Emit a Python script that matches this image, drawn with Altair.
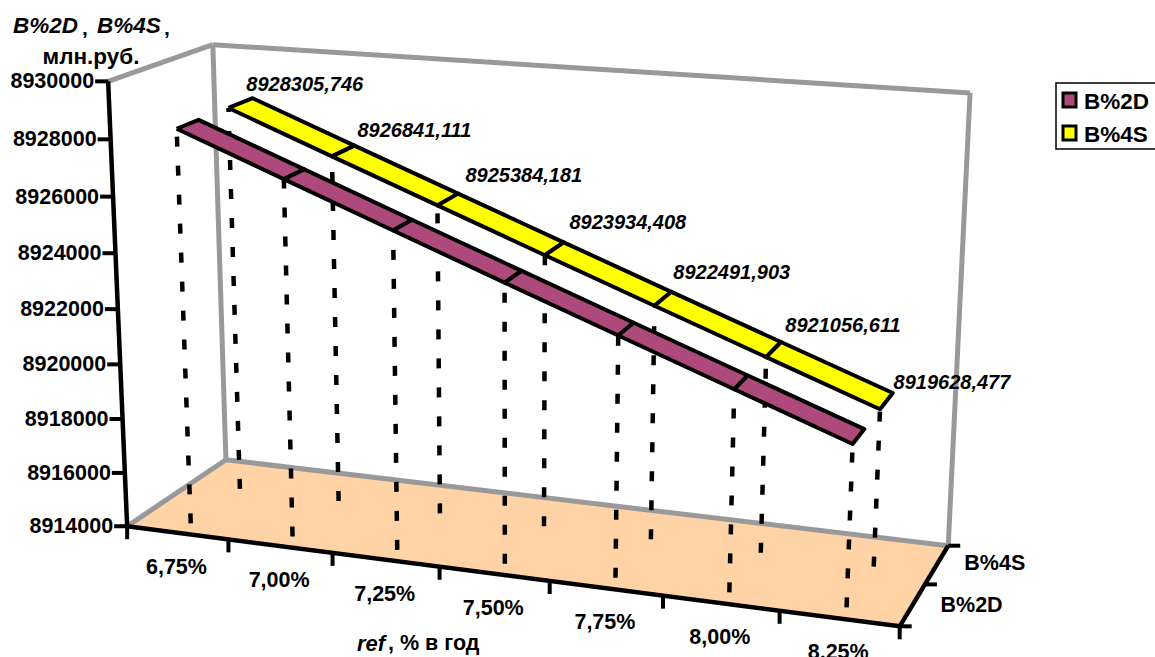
import altair as alt
import numpy as np
import pandas as pd

W, H = 1155, 657

# Chart values
rates = ["6,75%", "7,00%", "7,25%", "7,50%", "7,75%", "8,00%", "8,25%"]
series_names = ["B%2D", "B%4S"]
b2d = [8928310, 8926850, 8925390, 8923940, 8922500, 8921065, 8919635]
b4s = [8928305.746, 8926841.111, 8925384.181, 8923934.408, 8922491.903, 8921056.611, 8919628.477]
value_labels = ["8928305,746", "8926841,111", "8925384,181", "8923934,408", "8922491,903", "8921056,611", "8919628,477"]
y_ticks = [8914000, 8916000, 8918000, 8920000, 8922000, 8924000, 8926000, 8928000, 8930000]
Y_MIN, Y_MAX = 8914000, 8930000

# Perspective camera, calibrated on the corners of the plot box: (across, height, depth) -> screen
box_corners = [
    ((0, 0, 0), (127, 525)), ((1, 0, 0), (900, 627)), ((1, 0, 1), (948, 545)), ((0, 0, 1), (226, 461)),
    ((0, 1, 0), (108, 82)), ((0, 1, 1), (213, 44)), ((1, 1, 1), (970, 93)),
]
A, b = [], []
for (u, v, w), (sx, sy) in box_corners:
    A.append([u, v, w, 1, 0, 0, 0, 0, -sx * u, -sx * v, -sx * w])
    b.append(sx)
    A.append([0, 0, 0, 0, u, v, w, 1, -sy * u, -sy * v, -sy * w])
    b.append(sy)
cam = np.append(np.linalg.lstsq(np.array(A, float), np.array(b, float), rcond=None)[0], 1.0).reshape(3, 4)


def project(u, v, w):
    p = cam @ np.array([u, v, w, 1.0])
    return p[0] / p[2], p[1] / p[2]


def height(value):
    return (value - Y_MIN) / (Y_MAX - Y_MIN)


def across(i):
    return (i + 0.5) / len(rates)


RIBBONS = {"B%2D": (b2d, 0.13, 0.34), "B%4S": (b4s, 0.635, 0.885)}

polys, drops = [], []
for name, (vals, w0, w1) in RIBBONS.items():
    for i, val in enumerate(vals):
        fx, fy = project(across(i), 0, w0)
        tx, ty = project(across(i), height(val), w0)
        drops.append(dict(x=fx, y=fy, x2=tx, y2=ty))
        if i < len(vals) - 1:
            ring = [(i, w0), (i + 1, w0), (i + 1, w1), (i, w1), (i, w0)]
            for k, (j, w) in enumerate(ring):
                px, py = project(across(j), height(vals[j]), w)
                polys.append(dict(series=name, seg=i, k=k, x=px, y=py))
polys = pd.DataFrame(polys)

xs = alt.Scale(domain=[0, W])
ys = alt.Scale(domain=[H, 0])
X = alt.X("x:Q", scale=xs, axis=None)
Y = alt.Y("y:Q", scale=ys, axis=None)


def segments(pairs, color, width, cap="butt"):
    rows = [dict(x=a[0], y=a[1], x2=c[0], y2=c[1]) for a, c in pairs]
    return alt.Chart(pd.DataFrame(rows)).mark_rule(color=color, strokeWidth=width, strokeCap=cap).encode(
        x=X, y=Y, x2="x2:Q", y2="y2:Q")


def polygon(rows, fill, stroke, width):
    return alt.Chart(pd.DataFrame(rows)).mark_line(
        fill=fill, stroke=stroke, strokeWidth=width, strokeJoin="round", interpolate="linear"
    ).encode(x=X, y=Y, order="k:Q", detail="seg:N")


def text(rows, size, align="center", italic=False, weight="bold"):
    return alt.Chart(pd.DataFrame(rows)).mark_text(
        font="Liberation Sans", fontSize=size, fontWeight=weight, align=align, baseline="middle",
        fontStyle="italic" if italic else "normal", color="black"
    ).encode(x=X, y=Y, text="t:N")


c000, c100, c101, c001 = project(0, 0, 0), project(1, 0, 0), project(1, 0, 1), project(0, 0, 1)
c010, c011, c111 = project(0, 1, 0), project(0, 1, 1), project(1, 1, 1)

floor = polygon([dict(seg=0, k=k, x=p[0], y=p[1]) for k, p in enumerate([c000, c100, c101, c001, c000])],
                "#FFD3A6", "#FFD3A6", 1)
walls = segments([(c010, c011), (c011, c111), (c111, c101), (c011, c001), (c001, c101), (c001, c000)], "#999999", 5)
drop_lines = alt.Chart(pd.DataFrame(drops)).mark_rule(
    color="black", strokeWidth=4.5, strokeDash=[10, 19]
).encode(x=X, y=Y, x2="x2:Q", y2="y2:Q")
ribbon_s = polygon(polys[polys.series == "B%4S"], "#FFFF00", "black", 4)
ribbon_d = polygon(polys[polys.series == "B%2D"], "#AD4A7B", "black", 4)

# Axis lines and tick marks
axes = segments([(c010, c000), (c000, c100), (c100, c101)], "black", 4.5)
tick_pairs = []
for t in y_ticks:
    p = project(0, height(t), 0)
    tick_pairs.append((p, (p[0] - 13, p[1])))
for i in range(len(rates) + 1):
    p = project(i / len(rates), 0, 0)
    tick_pairs.append((p, (p[0], p[1] + 13)))
for w in (0, 0.5, 1):
    p = project(1, 0, w)
    tick_pairs.append((p, (p[0] + 12, p[1])))
ticks = segments(tick_pairs, "black", 4)

y_labels = []
for t in y_ticks:
    p = project(0, height(t), 0)
    y_labels.append(dict(x=p[0] - 14, y=p[1] + 1, t=str(t)))
x_labels = []
for i, r in enumerate(rates):
    p = project(across(i), 0, 0)
    x_labels.append(dict(x=p[0] - 1, y=p[1] + 35, t=r))
z_labels = []
for name, w, (dx, dy) in (("B%2D", 0.25, (59, 1)), ("B%4S", 0.75, (58, -1))):
    p = project(1, 0, w)
    z_labels.append(dict(x=p[0] + dx, y=p[1] + dy, t=name))

# Hand placement of the value captions above the rear ribbon
caption_shift = [(-5, 0), (4, -2), (8, -5), (6, -7), (2, -6), (4, -4), (0, 2)]
val_labels = []
for i, lab in enumerate(value_labels):
    p = project(across(i), height(b4s[i]), 0.84)
    val_labels.append(dict(x=p[0] + 3 + caption_shift[i][0], y=p[1] - 15 + caption_shift[i][1], t=lab))

# Legend box, cut by the right edge of the page
legend_box = alt.Chart(pd.DataFrame([dict(x=1056, y=83, x2=1175, y2=149)])).mark_rect(
    fill="white", stroke="black", strokeWidth=1.5).encode(x=X, y=Y, x2="x2:Q", y2="y2:Q")
legend_swatches = alt.Chart(pd.DataFrame([
    dict(x=1063, y=93, x2=1076, y2=107, s="B%2D"),
    dict(x=1063, y=126, x2=1076, y2=140, s="B%4S"),
])).mark_rect(stroke="black", strokeWidth=3).encode(
    x=X, y=Y, x2="x2:Q", y2="y2:Q",
    fill=alt.Fill("s:N", scale=alt.Scale(domain=series_names, range=["#AD4A7B", "#FFFF00"]), legend=None))
legend_text = text([dict(x=1084, y=102, t=series_names[0]), dict(x=1084, y=135, t=series_names[1])], 22.5, "left")

titles = [
    text([dict(x=13, y=26, t="B%2D"), dict(x=97, y=26, t="B%4S")], 22.5, "left", True),
    text([dict(x=82, y=29, t=","), dict(x=164, y=29, t=",")], 21, "left"),
    text([dict(x=91, y=57, t="млн.руб.")], 22.5),
    text([dict(x=357, y=644, t="ref")], 22, "left", True),
    text([dict(x=388, y=644, t=", % в год")], 21.5, "left"),
]

chart = alt.layer(
    floor, walls, drop_lines, ribbon_s, ribbon_d, axes, ticks,
    text(y_labels, 21.5, "right"), text(x_labels, 21.5), text(z_labels, 21.5),
    text(val_labels, 20, "left", True), legend_box, legend_swatches, legend_text, *titles,
).properties(width=W, height=H, padding=0, autosize=alt.AutoSizeParams(type="none")).configure_view(stroke=None)

chart.save("out.html", embed_options={"renderer": "svg", "actions": False})
